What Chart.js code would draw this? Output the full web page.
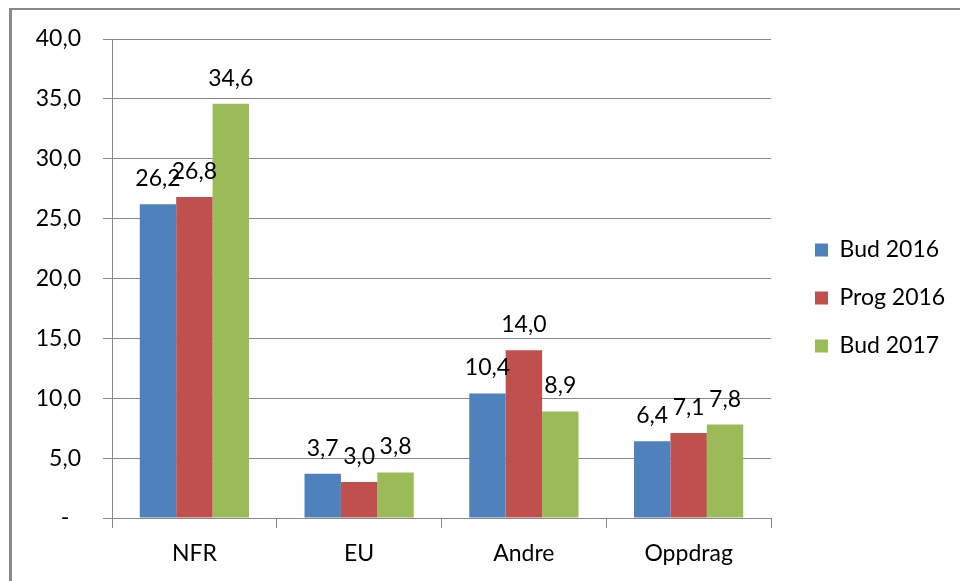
<!DOCTYPE html>
<html>
<head>
<meta charset="utf-8">
<script src="https://cdn.jsdelivr.net/npm/chart.js@4.4.1/dist/chart.umd.min.js"></script>
<style>
  html, body { margin: 0; padding: 0; background: #fff; }
  #wrap { position: relative; width: 960px; height: 581px; overflow: hidden; }
  #c { position: absolute; left: 0; top: 0; }
  #frame { position: absolute; left: 9px; top: 8px; width: 960px; height: 600px;
           border-top: 2px solid #8a8a8a; border-left: 3px solid #8a8a8a; pointer-events: none; }
</style>
</head>
<body>
<div id="wrap">
  <canvas id="c" width="960" height="581"></canvas>
  <div id="frame"></div>
</div>
<script>
const categories = ['NFR', 'EU', 'Andre', 'Oppdrag'];
const seriesNames = ['Bud 2016', 'Prog 2016', 'Bud 2017'];
const bud2016 = [26.2, 3.7, 10.4, 6.4];
const prog2016 = [26.8, 3.0, 14.0, 7.1];
const bud2017 = [34.6, 3.8, 8.9, 7.8];
const yTicks = [0, 5, 10, 15, 20, 25, 30, 35, 40];

const colors = ['#4F81BD', '#C0504D', '#9BBB59'];
const FONT = 'Lato, "Open Sans", sans-serif';
const FS = 23;

function fmt(v) { return v === 0 ? '-  ' : v.toFixed(1).replace('.', ','); }

// Legend width/offset tweak (keep plot right edge, place legend boxes)
const LEGEND_W = 189, LEGEND_SHIFT = 19;
const LegendEl = Chart.Legend._element;
const origFit = LegendEl.prototype.fit;
LegendEl.prototype.fit = function () {
  origFit.call(this);
  if (!this.isHorizontal()) this.width = LEGEND_W;
};

const shiftLegend = {
  id: 'shiftLegend',
  afterLayout(chart) {
    if (chart.legend) { chart.legend.left += LEGEND_SHIFT; chart.legend.top -= 12; chart.legend.bottom -= 12; }
  }
};

const dataLabels = {
  id: 'dataLabels',
  afterDatasetsDraw(chart) {
    const ctx = chart.ctx;
    ctx.save();
    ctx.font = FS + 'px ' + FONT;
    ctx.fillStyle = '#000';
    ctx.textAlign = 'center';
    ctx.textBaseline = 'alphabetic';
    chart.data.datasets.forEach((ds, i) => {
      const meta = chart.getDatasetMeta(i);
      meta.data.forEach((bar, j) => {
        ctx.fillText(fmt(ds.data[j]), bar.x, bar.y - 18);
      });
    });
    ctx.restore();
  }
};

new Chart(document.getElementById('c'), {
  type: 'bar',
  data: {
    labels: categories,
    datasets: [
      { label: seriesNames[0], data: bud2016, backgroundColor: colors[0] },
      { label: seriesNames[1], data: prog2016, backgroundColor: colors[1] },
      { label: seriesNames[2], data: bud2017, backgroundColor: colors[2] }
    ]
  },
  options: {
    responsive: false,
    animation: false,
    devicePixelRatio: 1,
    layout: { padding: { top: 39, left: 0, right: 0, bottom: 0 } },
    datasets: { bar: { categoryPercentage: 0.663, barPercentage: 1.0, borderWidth: 0 } },
    plugins: {
      tooltip: { enabled: false },
      title: { display: false },
      legend: {
        position: 'right',
        labels: {
          boxWidth: 13, boxHeight: 13, padding: 25,
          color: '#000',
          font: { family: FONT, size: FS }
        }
      }
    },
    scales: {
      x: {
        grid: { display: true, drawOnChartArea: false, drawTicks: true, tickLength: 10, color: '#888', offset: true },
        border: { display: true, color: '#888' },
        ticks: { color: '#000', font: { family: FONT, size: FS }, padding: 12 },
        afterFit(scale) { scale.height = 63; }
      },
      y: {
        min: 0, max: 40,
        afterBuildTicks(scale) { scale.ticks = yTicks.map(v => ({ value: v })); },
        grid: { color: '#888', tickLength: 9, drawTicks: true },
        border: { display: true, color: '#888' },
        ticks: { color: '#000', font: { family: FONT, size: FS }, padding: 22, callback: (v) => fmt(v) },
        afterFit(scale) { scale.width = 112; }
      }
    }
  },
  plugins: [dataLabels, shiftLegend]
});
</script>
</body>
</html>
